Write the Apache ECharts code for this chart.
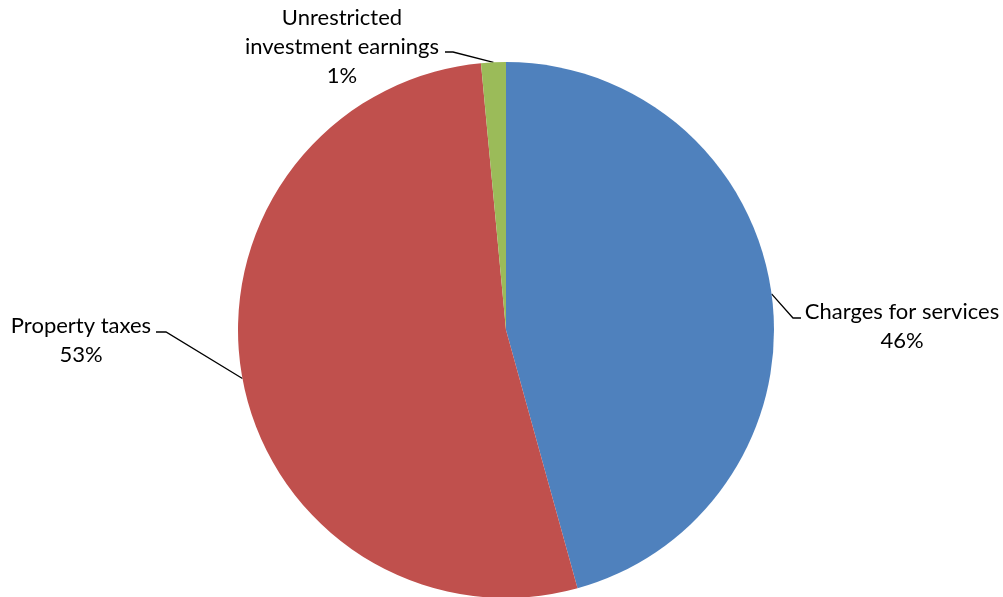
<!DOCTYPE html>
<html>
<head>
<meta charset="utf-8">
<script src="https://cdn.jsdelivr.net/npm/echarts@6/dist/echarts.min.js"></script>
<style>
  html, body { margin: 0; padding: 0; background: #fff; }
  #chart { width: 1003px; height: 597px; }
</style>
</head>
<body>
<div id="chart"></div>
<script>
// Revenue sources, share of total (%)
const categories = ['Charges for services', 'Property taxes', 'Unrestricted\ninvestment earnings'];
const shares = [45.7, 52.81, 1.49];
const colors = ['#4F81BD', '#C0504D', '#9BBB59'];

// Where each label sits and how its leader line bends
const labelSpots = [
  { x: 902, y: 326, elbow: [793, 318], end: [801, 318] },
  { x: 81,  y: 340, elbow: [166, 332], end: [156, 332] },
  { x: 342, y: 47,  elbow: [453, 52],  end: [445, 52] }
];

const total = shares.reduce((a, b) => a + b, 0);

const chart = echarts.init(document.getElementById('chart'), null, { renderer: 'canvas' });
chart.setOption({
  backgroundColor: '#ffffff',
  animation: false,
  series: [{
    type: 'pie',
    center: [506, 330],
    radius: 268,
    startAngle: 90,
    clockwise: true,
    avoidLabelOverlap: false,
    data: categories.map((name, i) => ({
      name: name,
      value: shares[i],
      itemStyle: { color: colors[i] }
    })),
    itemStyle: { borderWidth: 0 },
    label: {
      show: true,
      position: 'outside',
      fontFamily: 'Lato',
      fontSize: 22,
      lineHeight: 29,
      color: '#000',
      align: 'center',
      formatter: p => p.name + '\n' + Math.round(p.value / total * 100) + '%'
    },
    labelLine: {
      show: true,
      length: 20,
      length2: 10,
      smooth: false,
      lineStyle: { color: '#000', width: 1.3 }
    },
    labelLayout: function (params) {
      const s = labelSpots[params.dataIndex];
      const start = params.labelLinePoints ? params.labelLinePoints[0] : s.elbow;
      return {
        x: s.x,
        y: s.y,
        align: 'center',
        verticalAlign: 'middle',
        labelLinePoints: [start, s.elbow, s.end]
      };
    },
    emphasis: { disabled: true }
  }]
});
</script>
</body>
</html>
